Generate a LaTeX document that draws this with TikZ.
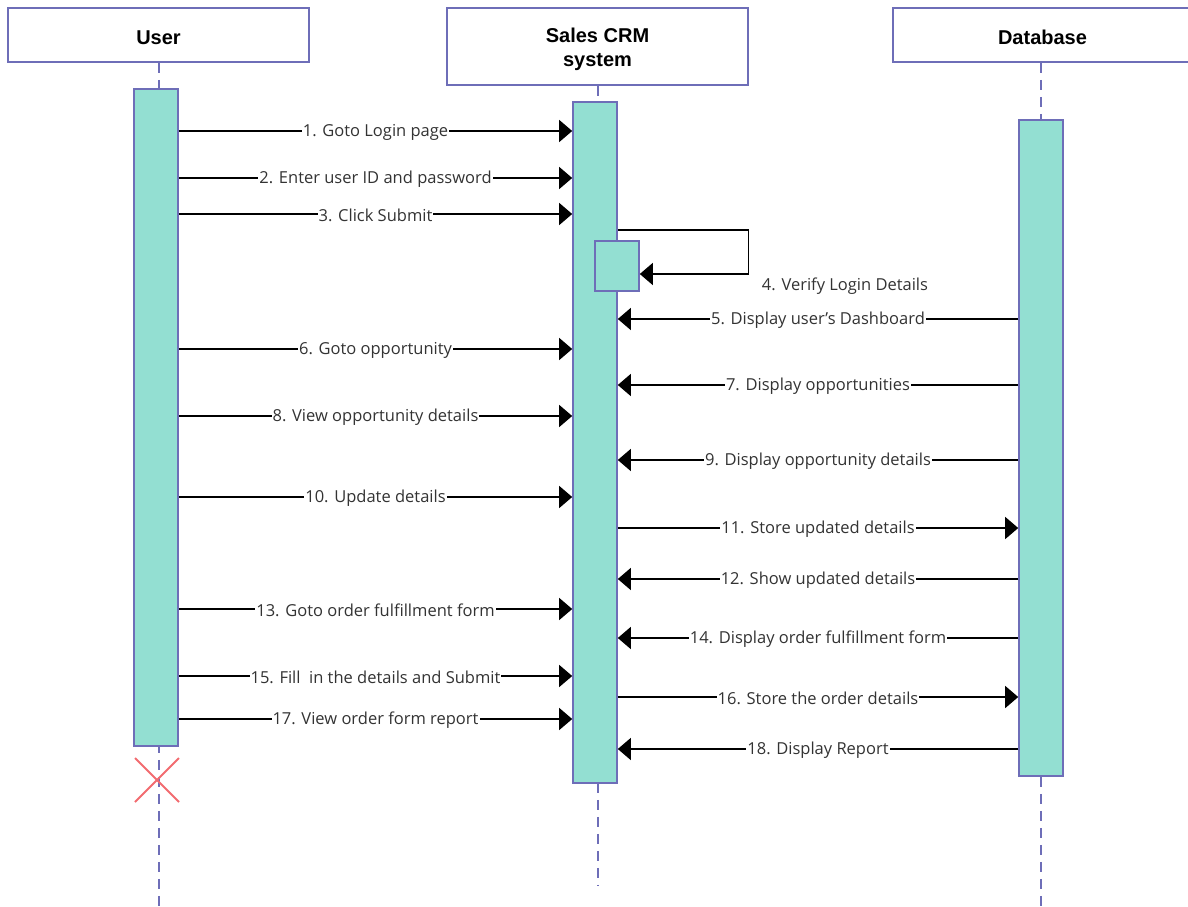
\documentclass[tikz,border=0pt]{standalone}
\usepackage{fontspec}
\setmainfont{Open Sans}
\newfontfamily\headfont{Liberation Sans}
\usetikzlibrary{arrows.meta,positioning,calc}
\definecolor{lifeblue}{HTML}{6E6EB8}
\definecolor{actfill}{HTML}{93DFD2}
\definecolor{crossred}{HTML}{F26B70}
\newcommand{\lowered}[1]{\raisebox{-2.5pt}[\height][\depth]{#1}}
\tikzset{
	head/.style={draw=lifeblue, fill=white, line width=1.6pt, align=center,
		font=\headfont\fontsize{20}{24}\selectfont\bfseries, inner sep=0pt},
	act/.style={draw=lifeblue, fill=actfill, line width=1.6pt,
		minimum width=44pt, inner sep=0pt},
	life/.style={draw=lifeblue, line width=2pt, dash pattern=on 10pt off 7pt},
	msg/.style={-{Triangle[length=13pt,width=22pt]}, line width=1.2pt, black},
	lbl/.style={fill=white, inner sep=1pt, text=black!80, yshift=-1pt,
		font=\fontsize{16.5}{19}\selectfont}
}
\begin{document}
\begin{tikzpicture}[x=1pt, y=-1pt]
	\useasboundingbox (0,0) rectangle (1188,907);
	
	%% -- Participants
	\node[head, minimum width=301pt, minimum height=54pt] (user) at (158.5,35) {\lowered{User}};
	\node[head, minimum width=301pt, minimum height=77pt] (crm) at (597.5,46.5) {\lowered{Sales CRM}\\\lowered{system}};
	\node[head, minimum width=299pt, minimum height=54pt] (db) at (1042.5,35) {\lowered{Database}};
	
	%% -- Lifelines
	\draw[life] (user.south) -- (user.south |- 0,907);
	\draw[life] (crm.south) -- (crm.south |- 0,885);
	\draw[life] (db.south -| 1041,0) -- (1041,907);
	
	%% -- Activation bars
	\node[act, minimum height=657pt] (ua) at (156,417.5) {};
	\node[act, minimum height=681pt] (ca) at (595,442.5) {};
	\node[act, minimum height=656pt] (da) at (1041,448) {};
	\node[act, minimum height=50pt] (sb) at (617,266) {};
	
	%% -- User to CRM
	\foreach \y/\txt in {131/{1. Goto Login page}, 178/{2. Enter user ID and password},
		214/{3. Click Submit}, 349/{6. Goto opportunity}, 416/{8. View opportunity details},
		497/{10. Update details}, 609/{13. Goto order fulfillment form},
		676/{15. Fill~ in the details and Submit}, 719/{17. View order form report}}
	\draw[msg] (ua.east |- 0,\y) -- node[lbl] {\txt} (ca.west |- 0,\y);
	
	%% -- Self call
	\draw[msg] (ca.east |- 0,230) -- ++(131,0) |- (sb.east |- 0,274);
	\node[lbl, fill=none] (verify) at (845,285) {4. Verify Login Details};
	
	%% -- Database to CRM
	\foreach \y/\txt in {319/{5. Display user's Dashboard~}, 385/{7. Display opportunities},
		460/{9. Display opportunity details}, 579/{12. Show updated details},
		638/{14. Display order fulfillment form}, 749/{18. Display Report}}
	\draw[msg] (da.west |- 0,\y) -- node[lbl] {\txt} (ca.east |- 0,\y);
	
	%% -- CRM to Database
	\foreach \y/\txt in {528/{11. Store updated details}, 697/{16. Store the order details}}
	\draw[msg] (ca.east |- 0,\y) -- node[lbl] {\txt} (da.west |- 0,\y);
	
	%% -- Destruction
	\coordinate (end) at (157,780);
	\draw[crossred, line width=2pt] ($(end)+(-22,-22)$) -- ($(end)+(22,22)$)
	($(end)+(22,-22)$) -- ($(end)+(-22,22)$);
	
\end{tikzpicture}
\end{document}
